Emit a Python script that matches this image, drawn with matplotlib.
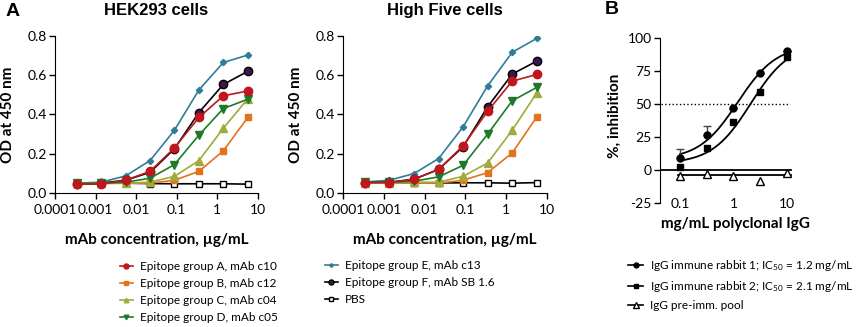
import numpy as np
import matplotlib
import matplotlib.pyplot as plt
from matplotlib.lines import Line2D

matplotlib.use('Agg')
plt.rcParams['font.family'] = ['Lato', 'DejaVu Sans']
plt.rcParams['axes.unicode_minus'] = False
plt.rcParams['mathtext.default'] = 'regular'

# mAb concentration, ug/mL
conc = [0.000342, 0.00137, 0.00547, 0.0219, 0.0875, 0.35, 1.4, 5.6]

# OD at 450 nm, HEK293 cells
hek_a = [0.045, 0.045, 0.065, 0.11, 0.23, 0.385, 0.495, 0.52]
hek_b = [0.048, 0.048, 0.05, 0.05, 0.065, 0.11, 0.215, 0.385]
hek_c = [0.05, 0.05, 0.05, 0.055, 0.085, 0.165, 0.33, 0.48]
hek_d = [0.05, 0.05, 0.055, 0.075, 0.145, 0.295, 0.43, 0.478]
hek_e = [0.05, 0.055, 0.087, 0.165, 0.32, 0.525, 0.665, 0.703]
hek_f = [0.048, 0.05, 0.065, 0.105, 0.225, 0.41, 0.553, 0.62]
hek_pbs = [0.05, 0.05, 0.05, 0.048, 0.047, 0.047, 0.047, 0.045]

# OD at 450 nm, High Five cells
h5_a = [0.052, 0.053, 0.07, 0.12, 0.24, 0.417, 0.57, 0.604]
h5_b = [0.05, 0.05, 0.05, 0.05, 0.065, 0.104, 0.204, 0.388]
h5_c = [0.05, 0.05, 0.055, 0.055, 0.085, 0.153, 0.32, 0.51]
h5_d = [0.055, 0.055, 0.06, 0.082, 0.141, 0.30, 0.47, 0.538]
h5_e = [0.056, 0.065, 0.099, 0.175, 0.337, 0.546, 0.717, 0.788]
h5_f = [0.053, 0.055, 0.07, 0.12, 0.235, 0.439, 0.606, 0.672]
h5_pbs = [0.052, 0.052, 0.051, 0.051, 0.052, 0.052, 0.05, 0.053]

labels_a = ['Epitope group A, mAb c10', 'Epitope group B, mAb c12',
            'Epitope group C, mAb c04', 'Epitope group D, mAb c05',
            'Epitope group E, mAb c13', 'Epitope group F, mAb SB 1.6', 'PBS']

# panel B: mg/mL polyclonal IgG vs % inhibition
igg_conc = [0.1, 0.32, 1.0, 3.2, 10]
rabbit1 = [9.1, 27, 47.4, 74, 90.6]
rabbit1_err = [7.3, 6.8, 0, 0, 0]
rabbit2 = [2.3, 16.6, 36.3, 59.6, 86]
preimm = [-4, -3, -4, -7.9, -2.3]
preimm_fit = -3.6
# 4PL fit: bottom, top, IC50, hill
fit1 = [8, 95, 1.2, 1.2]
fit2 = [5, 96, 2.1, 1.2]

labels_b = ['IgG immune rabbit 1; IC$_{50}$ = 1.2 mg/mL',
            'IgG immune rabbit 2; IC$_{50}$ = 2.1 mg/mL',
            'IgG pre-imm. pool']

# line styles per series (a, b, c, d, e, f, pbs)
styles = [
    dict(color='#C0161E', marker='o', ms=6, mfc='#C0161E', mec='#C0161E'),
    dict(color='#E2731C', marker='s', ms=5, mfc='#E2731C', mec='#E2731C'),
    dict(color='#9FAB3A', marker='^', ms=5.5, mfc='#9FAB3A', mec='#9FAB3A'),
    dict(color='#1E7A2A', marker='v', ms=5.5, mfc='#1E7A2A', mec='#1E7A2A'),
    dict(color='#2F7D96', marker='D', ms=3.2, mfc='#2F7D96', mec='#2F7D96'),
    dict(color='black', marker='o', ms=6, mfc='#3E1552', mec='black'),
    dict(color='black', marker='s', ms=5, mfc='white', mec='black'),
]
draw_order = [6, 4, 5, 1, 2, 3, 0]

title_font = dict(family=['Liberation Sans', 'DejaVu Sans'], weight='bold')


def od_panel(ax, series, title):
    lines = {}
    for i in draw_order:
        ln, = ax.plot(conc, series[i], lw=1.2, mew=1, label=labels_a[i], **styles[i])
        lines[i] = ln
    ax.set_xscale('log')
    ax.set_xlim(1e-4, 10)
    ax.set_ylim(0, 0.8)
    ax.set_xticks([1e-4, 1e-3, 1e-2, 1e-1, 1, 10])
    ax.set_xticklabels(['0.0001', '0.001', '0.01', '0.1', '1', '10'])
    ax.xaxis.set_minor_locator(matplotlib.ticker.NullLocator())
    ax.set_yticks([0, 0.2, 0.4, 0.6, 0.8])
    ax.set_yticklabels(['0.0', '0.2', '0.4', '0.6', '0.8'])
    ax.tick_params(labelsize=10, length=4, width=1, direction='out')
    ax.tick_params(axis='x', pad=4)
    ax.tick_params(axis='y', pad=2)
    for s in ['top', 'right']:
        ax.spines[s].set_visible(False)
    ax.set_ylabel('OD at 450 nm', fontsize=11, fontweight='bold')
    ax.yaxis.set_label_coords(-0.195, 0.5)
    ax.set_xlabel('mAb concentration, µg/mL', fontsize=11, fontweight='bold')
    ax.xaxis.set_label_coords(0.5, -0.255)
    ax.text(0.5, 1.165, title, transform=ax.transAxes, ha='center', va='center',
            fontsize=12, **title_font)
    return lines


fig = plt.figure(figsize=(8.58, 3.27), dpi=100)
ax1 = fig.add_axes([0.0641, 0.4098, 0.2366, 0.4801])
ax2 = fig.add_axes([0.3998, 0.4098, 0.2378, 0.4801])
ax3 = fig.add_axes([0.7692, 0.3783, 0.1550, 0.5046])

lines = od_panel(ax1, [hek_a, hek_b, hek_c, hek_d, hek_e, hek_f, hek_pbs], 'HEK293 cells')
od_panel(ax2, [h5_a, h5_b, h5_c, h5_d, h5_e, h5_f, h5_pbs], 'High Five cells')

leg_kw = dict(frameon=False, fontsize=8.5, handlelength=1.1, handletextpad=0.6,
              labelspacing=0.5, borderpad=0, borderaxespad=0, markerscale=0.6)
fig.legend([lines[i] for i in range(4)], labels_a[:4], loc='upper left',
           bbox_to_anchor=(120 / 858, 1 - 261 / 327), **leg_kw)
fig.legend([lines[i] for i in range(4, 7)], labels_a[4:], loc='upper left',
           bbox_to_anchor=(325 / 858, 1 - 260 / 327), **leg_kw)

# panel B
xs = np.logspace(-1, 1, 200)
for p in [fit1, fit2]:
    bottom, top, ic50, hill = p
    ax3.plot(xs, bottom + (top - bottom) / (1 + (ic50 / xs) ** hill), color='black', lw=1.3, zorder=2)
ax3.plot([0.0423, 12], [0, 0], color='black', lw=1.3, zorder=2)
ax3.plot([0.09, 12], [preimm_fit, preimm_fit], color='black', lw=1.3, zorder=2)
ax3.plot([0.044, 11.5], [50, 50], color='black', lw=1, ls=':', zorder=1)
ax3.errorbar(igg_conc, rabbit1, yerr=[[0] * 5, rabbit1_err], fmt='none', ecolor='#444444',
             elinewidth=1, capsize=3, capthick=1, zorder=3)
ax3.plot(igg_conc, rabbit1, ls='none', marker='o', ms=5, color='black', zorder=4)
ax3.plot(igg_conc, rabbit2, ls='none', marker='s', ms=5, color='black', zorder=4)
ax3.plot(igg_conc, preimm, ls='none', marker='^', ms=5.5, mfc='white', mec='black', mew=1, zorder=4)
ax3.set_xscale('log')
ax3.set_xlim(0.0423, 12.95)
ax3.set_ylim(-25, 100)
ax3.set_xticks([0.1, 1, 10])
ax3.set_xticklabels(['0.1', '1', '10'])
ax3.xaxis.set_minor_locator(matplotlib.ticker.NullLocator())
ax3.set_yticks([-25, 0, 25, 50, 75, 100])
ax3.tick_params(axis='y', labelsize=10, length=4, width=1, direction='out', pad=2)
ax3.tick_params(axis='x', labelsize=10, length=0, pad=-4)
for s in ['top', 'right', 'bottom']:
    ax3.spines[s].set_visible(False)
ax3.set_ylabel('%, inhibition', fontsize=11, fontweight='bold')
ax3.yaxis.set_label_coords(-0.286, 0.53)
ax3.set_xlabel('mg/mL polyclonal IgG', fontsize=11, fontweight='bold')
ax3.xaxis.set_label_coords(0.57, -0.085)

handles_b = [Line2D([], [], color='black', marker='o', ms=3.5, lw=1.2),
             Line2D([], [], color='black', marker='s', ms=3.5, lw=1.2),
             Line2D([], [], color='black', marker='^', ms=4, mfc='white', lw=1.2)]
fig.legend(handles_b, labels_b, loc='upper left', bbox_to_anchor=(628 / 858, 1 - 258 / 327),
           frameon=False, fontsize=8.5, handlelength=1.3, handletextpad=0.6,
           labelspacing=0.5, borderpad=0, borderaxespad=0)

fig.text(13 / 858, 1 - 12 / 327, 'A', ha='center', va='center', fontsize=14, **title_font)
fig.text(612 / 858, 1 - 10 / 327, 'B', ha='center', va='center', fontsize=14, **title_font)

plt.savefig('out.png', dpi=100)
